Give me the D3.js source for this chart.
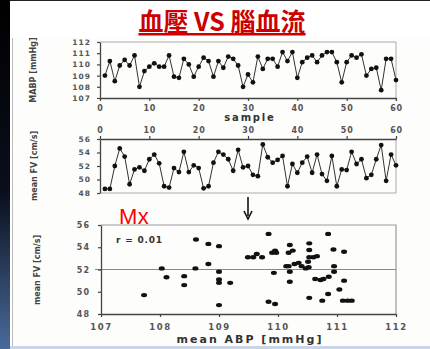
<!DOCTYPE html>
<html><head><meta charset="utf-8">
<script src="https://cdn.jsdelivr.net/npm/d3@7"></script>
<style>body{margin:0;background:#fff}svg{display:block}</style>
</head><body><svg id="c" width="430" height="349"></svg>
<script>
// ---- data ----
const samples = d3.range(1, 61);
const mabp = [109.0,110.3,108.5,109.9,110.4,109.9,110.8,108.0,109.4,109.8,
  110.1,109.8,109.8,110.8,108.9,108.8,110.5,110.0,108.9,109.8,
  110.6,110.3,108.9,110.3,109.7,110.7,110.5,109.9,108.0,109.1,
  108.4,110.7,109.6,110.5,110.5,109.8,111.1,110.3,111.1,108.8,
  110.2,110.6,110.8,110.2,110.8,111.1,111.1,110.2,108.4,110.2,
  110.8,110.6,110.9,109.0,109.6,109.7,107.7,110.5,110.5,108.6];
const meanFV = [48.6,48.6,52.0,54.6,53.4,49.3,51.5,51.8,51.3,53.0,
  53.7,52.4,49.0,48.8,51.7,51.1,54.1,51.1,52.1,51.7,
  48.7,49.0,52.5,54.1,53.7,53.0,51.3,54.4,51.8,52.0,
  50.7,50.5,55.2,53.3,52.5,52.9,53.5,49.0,52.3,51.0,
  52.5,53.4,51.0,53.7,50.8,49.8,53.5,49.0,51.5,51.4,
  54.1,52.3,53.0,50.2,50.7,53.0,55.1,49.8,53.7,52.1];
const scatterABP = [107.73,108.03,108.11,108.41,108.41,108.61,108.60,108.82,108.82,109.0,
  109.0,109.0,109.0,109.0,109.19,109.84,109.49,109.58,109.64,109.73,
  109.90,109.95,109.97,109.93,109.84,109.95,110.20,110.18,110.25,110.14,
  110.18,110.28,110.35,110.40,110.47,110.52,110.20,110.20,110.53,110.53,
  110.53,110.51,110.60,110.66,110.53,110.63,110.72,110.77,110.86,110.75,
  110.85,110.85,110.94,110.95,110.95,111.04,111.12,111.12,111.10,111.18,111.25];
const scatterFV = [49.7,52.1,51.3,51.4,50.6,54.7,52.1,54.3,52.5,54.1,
  51.8,51.1,50.8,48.8,50.8,55.2,53.1,53.1,53.4,53.1,
  53.5,53.7,53.5,51.7,49.1,48.9,54.2,53.5,53.7,52.3,
  52.3,52.5,52.6,52.3,52.1,52.2,51.8,50.9,54.35,53.75,
  53.1,52.7,53.1,53.2,49.45,51.15,51.05,51.15,51.35,49.2,
  49.8,55.2,53.8,52.3,51.8,50.2,53.6,51.0,49.2,49.2,49.2];
const ticksSample = [0,10,20,30,40,50,60];
const ticksMABP = [107,108,109,110,111,112];
const ticksFV = [48,50,52,54,56];
const ticksABP = [107,108,109,110,111,112];
const titleText = "血壓 VS 腦血流";

// ---- drawing ----
const svg = d3.select("#c");
const fmt = d3.format("d");
const defs = svg.append("defs");
const g1 = defs.append("linearGradient").attr("id","lg").attr("x1",0).attr("y1",0).attr("x2",0).attr("y2",1);
g1.append("stop").attr("offset","0").attr("stop-color","#000");
g1.append("stop").attr("offset","0.55").attr("stop-color","#0a0f1c");
g1.append("stop").attr("offset","1").attr("stop-color","#4a6a9c");

svg.append("rect").attr("x",0).attr("y",0).attr("width",430).attr("height",349).attr("fill","#fff");
svg.append("rect").attr("x",12).attr("y",38).attr("width",418).attr("height",309).attr("fill","#fdfdfb");
svg.append("rect").attr("x",0).attr("y",0).attr("width",10).attr("height",349).attr("fill","url(#lg)");
svg.append("line").attr("x1",12.5).attr("x2",12.5).attr("y1",38).attr("y2",347).attr("stroke","#bbb").attr("stroke-width",1);
svg.append("line").attr("x1",10).attr("x2",430).attr("y1",0.5).attr("y2",0.5).attr("stroke","#222").attr("stroke-width",1);
svg.append("rect").attr("x",10).attr("y",346).attr("width",420).attr("height",3).attr("fill","#c9d6ea");

// title
svg.append("text").attr("x",222).attr("y",31).attr("text-anchor","middle")
  .attr("font-family","'Noto Sans CJK TC','Noto Sans CJK SC',sans-serif").attr("font-weight","bold")
  .attr("font-size",25).attr("fill","#cc0000").attr("text-decoration","underline").text(titleText);

const tickFont = sel => sel.selectAll("text").attr("font-family","'DejaVu Sans',sans-serif")
  .attr("font-weight","bold").attr("fill","#555");
const styleAxis = (sel) => {
  sel.select(".domain").attr("stroke","#444").attr("stroke-width",1.3);
  sel.selectAll(".tick line").attr("stroke","#444").attr("stroke-width",1.2);
};

// ---- top: MABP ----
const x1 = d3.scaleLinear().domain([0,60]).range([100,396]);
const y1 = d3.scaleLinear().domain([107,112]).range([98,42]);
svg.append("path").attr("d",`M${x1(0)},${y1(112)}H${x1(60)}V${y1(107)+3}`).attr("fill","none").attr("stroke","#aaa").attr("stroke-width",1);
const ax1 = svg.append("g").attr("transform",`translate(0,${y1(107)})`)
  .call(d3.axisBottom(x1).tickValues(ticksSample).tickFormat(fmt).tickSize(3).tickSizeOuter(0).tickPadding(4));
styleAxis(ax1); tickFont(ax1); ax1.selectAll("text").attr("font-size",8).attr("letter-spacing",0.8);
const ay1 = svg.append("g").attr("transform",`translate(${x1(0)},0)`)
  .call(d3.axisLeft(y1).tickValues(ticksMABP).tickFormat(fmt).tickSize(3).tickSizeOuter(0).tickPadding(6));
styleAxis(ay1); tickFont(ay1); ay1.selectAll("text").attr("font-size",7.5).attr("letter-spacing",1);
svg.append("path").datum(samples.map((s,i)=>[s,mabp[i]]))
  .attr("d", d3.line().x(d=>x1(d[0])).y(d=>y1(d[1])))
  .attr("fill","none").attr("stroke","#333").attr("stroke-width",1);
svg.append("g").selectAll("circle").data(samples.map((s,i)=>[s,mabp[i]])).join("circle")
  .attr("cx",d=>x1(d[0])).attr("cy",d=>y1(d[1])).attr("r",2.4).attr("fill","#111");
svg.append("text").attr("x",250).attr("y",121).attr("text-anchor","middle")
  .attr("font-family","'DejaVu Sans',sans-serif").attr("font-weight","bold").attr("font-size",10)
  .attr("letter-spacing",1.8).attr("fill","#333").text("sample");
svg.append("text").attr("transform","translate(36,70) rotate(-90)").attr("text-anchor","middle")
  .attr("font-family","'DejaVu Sans',sans-serif").attr("font-weight","bold").attr("font-size",8)
  .attr("fill","#444").text("MABP [mmHg]");

// ---- middle: mean FV ----
const y2 = d3.scaleLinear().domain([48,56]).range([193,139]);
svg.append("path").attr("d",`M${x1(60)},${y2(56)}V${y2(48)}H${x1(0)}`).attr("fill","none").attr("stroke","#aaa").attr("stroke-width",1);
const ax2 = svg.append("g").attr("transform",`translate(0,${y2(56)})`)
  .call(d3.axisTop(x1).tickValues(ticksSample).tickFormat(fmt).tickSize(3).tickSizeOuter(0).tickPadding(3));
styleAxis(ax2); tickFont(ax2); ax2.selectAll("text").attr("font-size",8).attr("letter-spacing",0.8);
const ay2 = svg.append("g").attr("transform",`translate(${x1(0)},0)`)
  .call(d3.axisLeft(y2).tickValues(ticksFV).tickFormat(fmt).tickSize(3).tickSizeOuter(0).tickPadding(6));
styleAxis(ay2); tickFont(ay2); ay2.selectAll("text").attr("font-size",7.5).attr("letter-spacing",1);
svg.append("path").datum(samples.map((s,i)=>[s,meanFV[i]]))
  .attr("d", d3.line().x(d=>x1(d[0])).y(d=>y2(d[1])))
  .attr("fill","none").attr("stroke","#333").attr("stroke-width",1);
svg.append("g").selectAll("circle").data(samples.map((s,i)=>[s,meanFV[i]])).join("circle")
  .attr("cx",d=>x1(d[0])).attr("cy",d=>y2(d[1])).attr("r",2.4).attr("fill","#111");
svg.append("text").attr("transform","translate(37,166) rotate(-90)").attr("text-anchor","middle")
  .attr("font-family","'DejaVu Sans',sans-serif").attr("font-weight","bold").attr("font-size",8)
  .attr("fill","#444").text("mean FV [cm/s]");

// arrow
svg.append("line").attr("x1",x1(30)).attr("x2",x1(30)).attr("y1",197).attr("y2",216).attr("stroke","#111").attr("stroke-width",1.6);
svg.append("path").attr("d",`M${x1(30)-4},${211}L${x1(30)},${219}L${x1(30)+4},${211}`).attr("fill","none").attr("stroke","#111").attr("stroke-width",1.6);

// Mx
svg.append("text").attr("x",119).attr("y",224).attr("font-family","'Liberation Sans',Arial,sans-serif")
  .attr("font-size",22).attr("fill","#ff0000").attr("letter-spacing",0.5).text("Mx");

// ---- bottom: scatter ----
const x3 = d3.scaleLinear().domain([107,112]).range([101,396]);
const y3 = d3.scaleLinear().domain([48,56]).range([314,225]);
svg.append("path").attr("d",`M${x3(107)},${y3(56)}H${x3(112)}V${y3(48)}`).attr("fill","none").attr("stroke","#999").attr("stroke-width",1.2);
svg.append("line").attr("x1",95).attr("x2",x3(112)).attr("y1",y3(52)).attr("y2",y3(52)).attr("stroke","#888").attr("stroke-width",1.2);
const ax3 = svg.append("g").attr("transform",`translate(0,${y3(48)})`)
  .call(d3.axisBottom(x3).tickValues(ticksABP).tickFormat(fmt).tickSize(3).tickSizeOuter(0).tickPadding(7));
styleAxis(ax3); tickFont(ax3); ax3.selectAll("text").attr("font-size",8.5).attr("letter-spacing",1.6);
const ay3 = svg.append("g").attr("transform",`translate(${x3(107)},0)`)
  .call(d3.axisLeft(y3).tickValues(ticksFV).tickFormat(fmt).tickSize(3).tickSizeOuter(0).tickPadding(8));
styleAxis(ay3); tickFont(ay3); ay3.selectAll("text").attr("font-size",8).attr("letter-spacing",1);
svg.append("g").selectAll("ellipse").data(scatterABP.map((a,i)=>[a,scatterFV[i]])).join("ellipse")
  .attr("cx",d=>x3(d[0])).attr("cy",d=>y3(d[1])).attr("rx",3).attr("ry",2.2).attr("fill","#111");
svg.append("text").attr("x",116).attr("y",243).attr("font-family","'DejaVu Sans',sans-serif")
  .attr("font-weight","bold").attr("font-size",9).attr("letter-spacing",0.8).attr("fill","#333").text("r = 0.01");
svg.append("text").attr("x",250).attr("y",343).attr("text-anchor","middle")
  .attr("font-family","'DejaVu Sans',sans-serif").attr("font-weight","bold").attr("font-size",11)
  .attr("letter-spacing",2).attr("fill","#333").text("mean ABP [mmHg]");
svg.append("text").attr("transform","translate(40,270) rotate(-90)").attr("text-anchor","middle")
  .attr("font-family","'DejaVu Sans',sans-serif").attr("font-weight","bold").attr("font-size",8)
  .attr("fill","#444").text("mean FV [cm/s]");
</script></body></html>
